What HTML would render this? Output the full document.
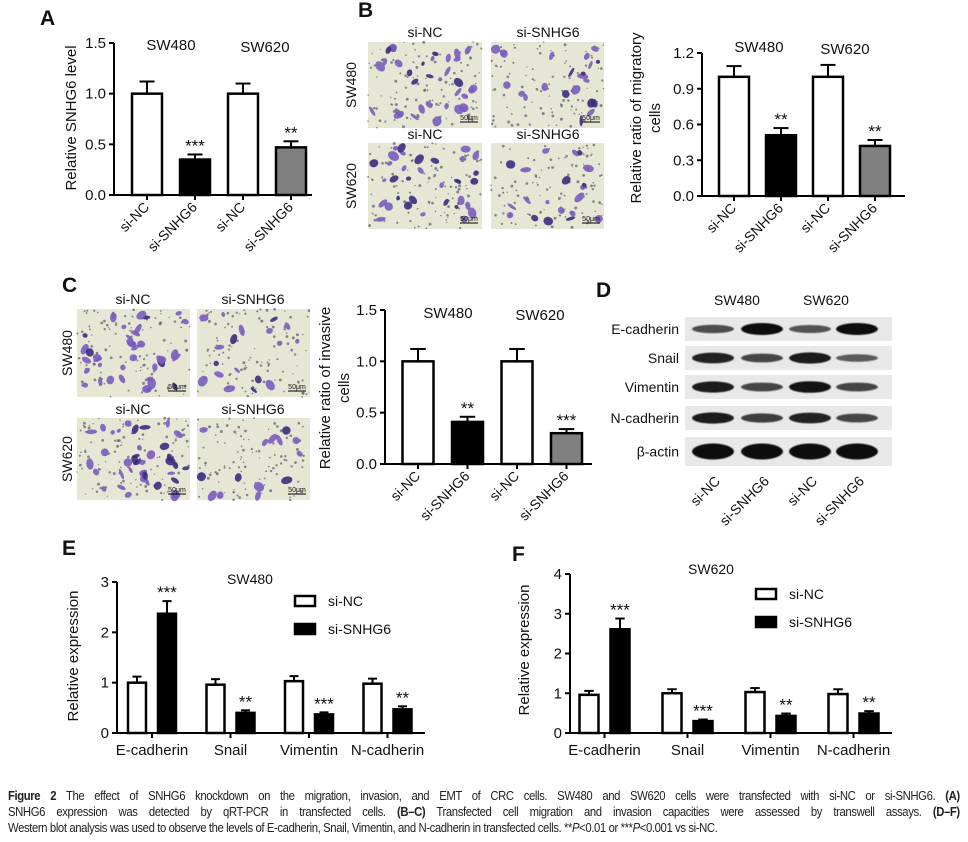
<!DOCTYPE html>
<html><head><meta charset="utf-8">
<style>
html,body{margin:0;padding:0;background:#fff;}
body{width:968px;height:842px;overflow:hidden;position:relative;font-family:"Liberation Sans",sans-serif;}
svg text{font-family:"Liberation Sans",sans-serif;}
#caption{position:absolute;left:8px;top:788px;width:1094px;font-size:13px;line-height:16px;color:#222;letter-spacing:-0.45px;transform:scaleX(0.87);transform-origin:0 0;}
#caption div{text-align:justify;text-align-last:justify;white-space:nowrap;overflow:hidden;}
#caption div.last{text-align-last:left;}
</style></head>
<body>
<svg id="fig" width="968" height="790" viewBox="0 0 968 790" xmlns="http://www.w3.org/2000/svg">
<defs>
<filter id="blur0"><feGaussianBlur stdDeviation="0.6"/></filter>
</defs>
</svg>
<div id="caption"><div style="white-space:normal"><b>Figure 2</b> The effect of SNHG6 knockdown on the migration, invasion, and EMT of CRC cells. SW480 and SW620 cells were transfected with si-NC or si-SNHG6. <b>(A)</b></div><div style="white-space:normal">SNHG6 expression was detected by qRT-PCR in transfected cells. <b>(B–C)</b> Transfected cell migration and invasion capacities were assessed by transwell assays. <b>(D–F)</b></div><div class="last">Western blot analysis was used to observe the levels of E-cadherin, Snail, Vimentin, and N-cadherin in transfected cells. **<i>P</i>&lt;0.01 or ***<i>P</i>&lt;0.001 vs si-NC.</div></div>
<script>
// ---- data ----
const groupCats = ["si-NC","si-SNHG6","si-NC","si-SNHG6"];
const aValues = [1.0,0.35,1.0,0.47];
const aErrors = [0.12,0.05,0.10,0.06];
const aStars = ["","***","","**"];
const aTicks = [0,0.5,1.0,1.5];
const aTickLabels = ["0.0","0.5","1.0","1.5"];
const bValues = [1.0,0.51,1.0,0.42];
const bErrors = [0.09,0.06,0.10,0.05];
const bStars = ["","**","","**"];
const bTicks = [0,0.3,0.6,0.9,1.2];
const bTickLabels = ["0.0","0.3","0.6","0.9","1.2"];
const cValues = [1.0,0.41,1.0,0.30];
const cErrors = [0.12,0.05,0.12,0.04];
const cStars = ["","**","","***"];
const cTicks = [0,0.5,1.0,1.5];
const cTickLabels = ["0.0","0.5","1.0","1.5"];
const barFills = ["#fff","#000","#fff","#808080"];
const markers = ["E-cadherin","Snail","Vimentin","N-cadherin"];
const eNC = [1.0,0.96,1.03,0.98];
const eNCerr = [0.12,0.11,0.10,0.10];
const eSi = [2.37,0.40,0.37,0.47];
const eSiErr = [0.25,0.05,0.04,0.06];
const eStars = ["***","**","***","**"];
const eTicks = [0,1,2,3];
const fNC = [0.96,1.0,1.03,0.98];
const fNCerr = [0.10,0.10,0.10,0.12];
const fSi = [2.61,0.30,0.43,0.49];
const fSiErr = [0.27,0.04,0.06,0.06];
const fStars = ["***","***","**","**"];
const fTicks = [0,1,2,3,4];
const blotRows = ["E-cadherin","Snail","Vimentin","N-cadherin","β-actin"];
const blotIntensity = [[0.55,1,0.5,1],[0.85,0.6,0.9,0.45],[0.9,0.6,0.95,0.6],[0.9,0.65,0.85,0.6],[1,1,1,1]];

const svg = document.getElementById('fig');
const NS = "http://www.w3.org/2000/svg";
function el(tag, attrs, parent, txt){
  const e = document.createElementNS(NS, tag);
  for (const k in attrs) e.setAttribute(k, attrs[k]);
  if (txt !== undefined) e.textContent = txt;
  (parent||svg).appendChild(e);
  return e;
}
function txt(x,y,s,size,extra,parent){
  const a = Object.assign({x:x,y:y,'font-size':size,fill:'#111'}, extra||{});
  return el('text',a,parent,s);
}

function yAxis(g, ax, y0, yTop, max, ticks, labels, x1){
  const sy = v => y0 - (v/max)*(y0-yTop);
  el('line',{x1:ax,y1:sy(max),x2:ax,y2:y0,stroke:'#000','stroke-width':2},g);
  el('line',{x1:ax,y1:y0,x2:x1,y2:y0,stroke:'#000','stroke-width':2},g);
  ticks.forEach((t,i)=>{
    el('line',{x1:ax-5,y1:sy(t),x2:ax,y2:sy(t),stroke:'#000','stroke-width':2},g);
    const l = txt(ax-8, sy(t)+5, labels[i], 15, {'text-anchor':'end'}, g);
    
    
  });
  return sy;
}
function bar(g, cx, w, y0, sy, v, e, fill, star, name){
  const r = el('rect',{x:cx-w/2,y:sy(v),width:w,height:y0-sy(v),fill:fill,stroke:'#000','stroke-width':2.5},g);
  
  
  const ey = sy(v+e);
  el('line',{x1:cx,y1:sy(v)-1,x2:cx,y2:ey,stroke:'#000','stroke-width':2},g);
  el('line',{x1:cx-w/4,y1:ey,x2:cx+w/4,y2:ey,stroke:'#000','stroke-width':2},g);
  if (star){ const s = txt(cx, ey-3, star, 17, {'text-anchor':'middle'}, g);
      }
}
function simpleChart(name, ax, y0, yTop, max, ticks, labels, x1, off, step, w, vals, errs, stars){
  const g = el('g',{},svg);
  
  
  const sy = yAxis(g, ax, y0, yTop, max, ticks, labels, x1);
  vals.forEach((v,i)=>{
    const cx = ax + off + i*step;
    bar(g, cx, w, y0, sy, v, errs[i], barFills[i], stars[i], 'bar-'+groupCats[i].toLowerCase()+'-'+(i<2?'sw480':'sw620'));
    el('line',{x1:cx,y1:y0,x2:cx,y2:y0+5,stroke:'#000','stroke-width':2},g);
    const t = txt(cx+3, y0+13, groupCats[i], 14, {'text-anchor':'end',transform:'rotate(-45 '+(cx+3)+' '+(y0+13)+')'}, g);
     
  });
  return g;
}
function groupedChart(name, ax, y0, yTop, max, ticks, x1, off, step, inner, w, nc, ncE, si, siE, stars){
  const g = el('g',{},svg);
  
  
  const sy = yAxis(g, ax, y0, yTop, max, ticks, ticks.map(String), x1);
  markers.forEach((m,i)=>{
    const c1 = ax + off + i*step, c2 = c1 + inner;
    bar(g, c1, w, y0, sy, nc[i], ncE[i], '#fff', '', 'bar-si-nc-'+m.toLowerCase());
    bar(g, c2, w, y0, sy, si[i], siE[i], '#000', stars[i], 'bar-si-snhg6-'+m.toLowerCase());
    const mid = (c1+c2)/2;
    el('line',{x1:mid,y1:y0,x2:mid,y2:y0+5,stroke:'#000','stroke-width':2},g);
    const t = txt(mid, y0+22, m, 15, {'text-anchor':'middle'}, g);
     
  });
  return g;
}

[['A',40,25],['B',358,17],['C',62,292],['D',596,297],['E',62,555],['F',512,561]].forEach(p=>{
  const t = txt(p[1],p[2],p[0],21,{'font-weight':'bold'});
  
  
});

simpleChart('chart-a', 114, 195, 43, 1.5, aTicks, aTickLabels, 312, 33, 48, 30, aValues, aErrors, aStars);
txt(171,50,'SW480',15,{'text-anchor':'middle'});
txt(265,52,'SW620',15,{'text-anchor':'middle'});
txt(76,118,'Relative SNHG6 level',15,{'text-anchor':'middle',transform:'rotate(-90 76 118)'});

simpleChart('chart-b', 702, 196, 53, 1.2, bTicks, bTickLabels, 905, 32, 47, 30, bValues, bErrors, bStars);
txt(759,52,'SW480',15,{'text-anchor':'middle'});
txt(845,54,'SW620',15,{'text-anchor':'middle'});
txt(641,118,'Relative ratio of migratory',15,{'text-anchor':'middle',transform:'rotate(-90 641 118)'});
txt(660,118,'cells',15,{'text-anchor':'middle',transform:'rotate(-90 660 118)'});

simpleChart('chart-c', 385, 464, 310, 1.5, cTicks, cTickLabels, 592, 33, 49.5, 31, cValues, cErrors, cStars);
txt(448,318,'SW480',15,{'text-anchor':'middle'});
txt(540,320,'SW620',15,{'text-anchor':'middle'});
txt(330,388,'Relative ratio of invasive',15,{'text-anchor':'middle',transform:'rotate(-90 330 388)'});
txt(349,388,'cells',15,{'text-anchor':'middle',transform:'rotate(-90 349 388)'});

groupedChart('chart-e', 117, 733, 582, 3, eTicks, 425, 20, 78.5, 30, 18, eNC, eNCerr, eSi, eSiErr, eStars);
txt(250,584,'SW480',14,{'text-anchor':'middle'});
txt(78,656,'Relative expression',15,{'text-anchor':'middle',transform:'rotate(-90 78 656)'});
groupedChart('chart-f', 570, 733, 574, 4, fTicks, 892, 19, 83, 31, 19, fNC, fNCerr, fSi, fSiErr, fStars);
txt(711,574,'SW620',14,{'text-anchor':'middle'});
txt(529,650,'Relative expression',15,{'text-anchor':'middle',transform:'rotate(-90 529 650)'});

function legend(x,y,nm){
  const g = el('g',{},svg);
  
  
  el('rect',{x:x,y:y-5,width:20,height:10,fill:'#fff',stroke:'#000','stroke-width':2.5},g);
  txt(x+33,y+5,'si-NC',14,{},g);
  el('rect',{x:x,y:y+23,width:20,height:10,fill:'#000',stroke:'#000','stroke-width':2.5},g);
  txt(x+33,y+33,'si-SNHG6',14,{},g);
}
legend(295,601,'legend-e');
legend(756,594,'legend-f');

let seed = 7;
function rnd(){ seed = (seed*16807) % 2147483647; return seed/2147483647; }
function micro(x,y,w,h,n,nm){
  const g = el('g',{},svg);
  
  
  el('rect',{x:x,y:y,width:w,height:h,fill:'#e6e6d4'},g);
  for (let i=0;i<110;i++) el('circle',{cx:x+rnd()*w,cy:y+rnd()*h,r:0.6+rnd()*0.9,fill:'#555a6a',opacity:0.7},g);
  for (let i=0;i<n;i++){
    const cx=x+4+rnd()*(w-8), cy=y+4+rnd()*(h-8);
    el('ellipse',{cx:cx,cy:cy,rx:2+rnd()*4,ry:1.5+rnd()*3,fill:rnd()<0.3?'#3a2c80':'#7a5cc0',opacity:0.9,transform:'rotate('+(rnd()*180)+' '+cx+' '+cy+')'},g);
  }
  el('line',{x1:x+w-22,y1:y+h-6,x2:x+w-4,y2:y+h-6,stroke:'#000','stroke-width':1},g);
  txt(x+w-13,y+h-8,'50μm',7,{'text-anchor':'middle'},g);
}
micro(368,42,114,86,34,'micrograph-b-sw480-si-nc');
micro(491,42,113,86,22,'micrograph-b-sw480-si-snhg6');
micro(368,143,114,86,34,'micrograph-b-sw620-si-nc');
micro(491,143,113,86,20,'micrograph-b-sw620-si-snhg6');
txt(425,37,'si-NC',14,{'text-anchor':'middle'});
txt(548,37,'si-SNHG6',14,{'text-anchor':'middle'});
txt(425,139,'si-NC',14,{'text-anchor':'middle'});
txt(548,139,'si-SNHG6',14,{'text-anchor':'middle'});
txt(356,85,'SW480',14,{'text-anchor':'middle',transform:'rotate(-90 356 85)'});
txt(356,186,'SW620',14,{'text-anchor':'middle',transform:'rotate(-90 356 186)'});

micro(77,309,113,88,40,'micrograph-c-sw480-si-nc');
micro(197,309,113,88,18,'micrograph-c-sw480-si-snhg6');
micro(77,418,113,82,40,'micrograph-c-sw620-si-nc');
micro(197,418,113,82,14,'micrograph-c-sw620-si-snhg6');
txt(133,304,'si-NC',14,{'text-anchor':'middle'});
txt(253,304,'si-SNHG6',14,{'text-anchor':'middle'});
txt(133,414,'si-NC',14,{'text-anchor':'middle'});
txt(253,414,'si-SNHG6',14,{'text-anchor':'middle'});
txt(72,353,'SW480',14,{'text-anchor':'middle',transform:'rotate(-90 72 353)'});
txt(72,459,'SW620',14,{'text-anchor':'middle',transform:'rotate(-90 72 459)'});

const blotG = el('g',{},svg);


const rowTop = [317,346,375,406,437];
const rowH = [24,24,24,24,29];
const lanes = [713,762,810,857];
blotRows.forEach((r,i)=>{
  el('rect',{x:685,y:rowTop[i],width:207,height:rowH[i],fill:'#e8e8e8'},blotG);
  const t = txt(679,rowTop[i]+rowH[i]/2+5,r,14,{'text-anchor':'end'},blotG);
   
  lanes.forEach((lx,j)=>{
    const k = blotIntensity[i][j];
    const b = el('ellipse',{cx:lx,cy:rowTop[i]+rowH[i]/2,rx:21,ry:(i==4?8:2+4*k),fill:'#111',opacity:0.35+0.65*k,filter:'url(#blur0)'},blotG);
    
    
  });
});
txt(737,305,'SW480',14,{'text-anchor':'middle'},blotG);
txt(826,305,'SW620',14,{'text-anchor':'middle'},blotG);
lanes.forEach((lx,j)=>{
  const t = txt(lx+8,482,groupCats[j],14,{'text-anchor':'end',transform:'rotate(-45 '+(lx+8)+' 482)'},blotG);
   
});
</script>
</body></html>
